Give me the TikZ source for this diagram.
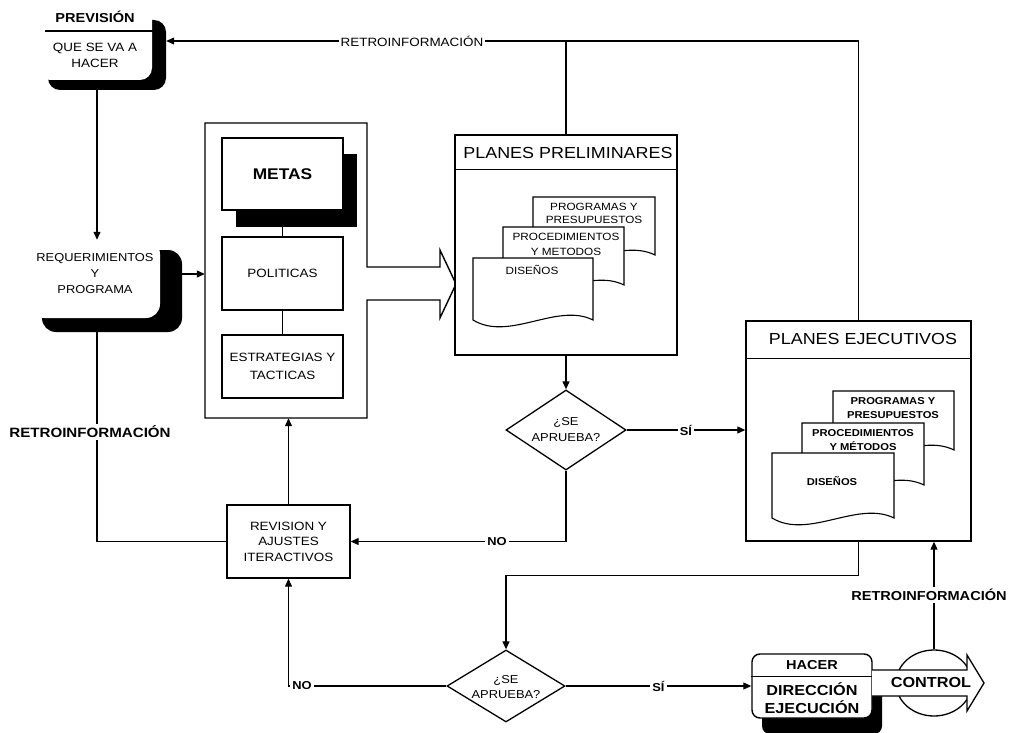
\documentclass[tikz,border=0pt]{standalone}
\usepackage{fontspec}
\setmainfont{Liberation Sans}[FakeStretch=1.12]
\usetikzlibrary{arrows.meta,shapes.geometric,calc}
\newcommand\fsz[2]{\fontsize{#1}{#2}\selectfont}
\newcommand\docshp[4]{\filldraw[docst] (#1,#2) -- (#3,#2) -- (#3,#4) .. controls ({#3-0.3*(#3-#1)},{#4-18}) and ({#1+0.3*(#3-#1)},{#4+22}) .. (#1,#4) -- cycle;}
\tikzset{
 ln/.style={line width=1.2pt},
 arr/.style={line width=1.2pt,-{Triangle[length=8pt,width=7pt]}},
 boxst/.style={draw, fill=white, line width=1.4pt, inner sep=0pt},
 shad/.style={fill=black, inner sep=0pt},
 docst/.style={draw, fill=white, line width=1.1pt},
 txt/.style={align=center, inner sep=1pt},
 lbl/.style={fill=white, inner sep=2pt},
 dia/.style={diamond, draw, line width=1.3pt, fill=white, inner sep=0pt, aspect=1.5},
}
\begin{document}
\begin{tikzpicture}[x=1pt,y=-1pt]
\useasboundingbox (0,0) rectangle (1018,733);
\coordinate (cx) at (97,0);
\coordinate (tr) at (858,41);

% PREVISION
\node[shad, rounded corners=12pt, minimum width=118pt, minimum height=70pt] (prevs) at (107,55) {};
\node[fill=white, rounded corners=12pt, minimum width=114pt, minimum height=77pt, inner sep=0pt] (prev) at (95,41.5) {};
\draw[ln] (45,31) -- (157,31);
\node[txt, font=\fsz{13}{15}\bfseries] (prevt) at (95,17) {PREVISIÓN};
\node[txt, font=\fsz{12}{16}] (prevq) at (95,55) {QUE SE VA A\\HACER};

% REQUERIMIENTOS
\node[shad, rounded corners=14pt, minimum width=140pt, minimum height=82pt] (reqs) at (112,291) {};
\node[fill=white, rounded corners=14pt, minimum width=130pt, minimum height=78pt, inner sep=0pt] (req) at (95,279) {};
\node[txt, font=\fsz{11.5}{16}] (reqt) at (95,274) {REQUERIMIENTOS\\Y\\PROGRAMA};

% container with block arrow
\draw[line width=1.4pt, fill=white] (205,123) -- (367,123) -- (367,267) -- (440,267) -- (440,250) -- (456,284) -- (440,318) -- (440,300) -- (367,300) -- (367,418) -- (205,418) -- cycle;
\node[minimum width=162pt, minimum height=295pt, inner sep=0pt] (cont) at (286,270.5) {};

\node[shad, minimum width=121pt, minimum height=73pt] (metass) at (296.5,190.5) {};
\node[boxst, minimum width=121pt, minimum height=72pt, font=\fsz{15.5}{18}\bfseries] (metas) at (282.5,174) {METAS};
\node[boxst, minimum width=121pt, minimum height=73pt, font=\fsz{12}{14}] (pol) at (282.5,273.5) {POLITICAS};
\node[boxst, minimum width=121pt, minimum height=63pt, align=center, font=\fsz{12}{18}] (est) at (282.5,366.5) {ESTRATEGIAS Y\\TACTICAS};

% PLANES PRELIMINARES
\node[boxst, minimum width=222pt, minimum height=220pt] (pp) at (566,245) {};
\draw[ln] ($(pp.north west)+(0,35)$) -- ($(pp.north east)+(0,35)$);
\node[font=\fsz{16}{18}] (ppt) at (568,153) {PLANES PRELIMINARES};
\docshp{533}{197}{655}{255}
\node[txt, font=\fsz{10.5}{13}] (pp1) at (594,213.5) {PROGRAMAS Y\\PRESUPUESTOS};
\docshp{503}{227}{624}{285}
\node[txt, font=\fsz{10.5}{15}] (pp2) at (566,244.5) {PROCEDIMIENTOS\\Y METODOS};
\docshp{473}{258}{593}{320}
\node[txt, font=\fsz{10.5}{13}] (pp3) at (532,270) {DISEÑOS};

% diamond 1
\node[dia, minimum width=120pt, minimum height=80pt] (d1) at (566,430) {};
\node[txt, font=\fsz{11.5}{16}] (d1t) at (566,430) {¿SE\\APRUEBA?};

% REVISION
\node[boxst, minimum width=123pt, minimum height=73pt, align=center, font=\fsz{12}{15.5}] (rev) at (288.5,541.5) {REVISION Y\\AJUSTES\\ITERACTIVOS};

% PLANES EJECUTIVOS
\node[boxst, minimum width=225pt, minimum height=220pt] (pe) at (858.5,431) {};
\draw[ln] ($(pe.north west)+(0,38)$) -- ($(pe.north east)+(0,38)$);
\node[font=\fsz{16}{18}] (pet) at (863,339) {PLANES EJECUTIVOS};
\docshp{833}{391}{954}{450}
\node[txt, font=\fsz{10}{14}\bfseries] (pe1) at (893,408) {PROGRAMAS Y\\PRESUPUESTOS};
\docshp{802}{423}{924}{485}
\node[txt, font=\fsz{10}{14}\bfseries] (pe2) at (863,440) {PROCEDIMIENTOS\\Y MÉTODOS};
\docshp{772}{453}{894}{518}
\node[txt, font=\fsz{10}{13}\bfseries] (pe3) at (832,481) {DISEÑOS};

% diamond 2
\node[dia, minimum width=118pt, minimum height=72pt] (d2) at (506,686) {};
\node[txt, font=\fsz{11.5}{15}] (d2t) at (506,687) {¿SE\\APRUEBA?};

% HACER
\node[shad, rounded corners=8pt, minimum width=120pt, minimum height=64pt] (hacers) at (822,702) {};
\node[boxst, rounded corners=8pt, minimum width=120pt, minimum height=64pt] (hacer) at (812,686) {};
\draw[ln] ($(hacer.north west)+(0,23)$) -- ($(hacer.north east)+(0,23)$);
\node[font=\fsz{13}{15}\bfseries] (hacert) at (812,665) {HACER};
\node[txt, font=\fsz{14.5}{18}\bfseries] (dirt) at (812,698) {DIRECCIÓN\\EJECUCIÓN};

% CONTROL
\node[ellipse, draw, line width=1.3pt, fill=white, minimum width=76pt, minimum height=66pt, inner sep=0pt] (ctrl) at (934,683) {};
\filldraw[line width=1.3pt, fill=white] (872,670) -- (967,670) -- (967,655) -- (984,683) -- (967,711) -- (967,696) -- (872,696);
\node[font=\fsz{14.5}{16}\bfseries] (ctrlt) at (931,683) {CONTROL};

% connectors
\draw[ln] (pe.north) -- (pe.north |- tr);
\draw[ln] (pp.north) -- (pp.north |- tr);
\draw[arr] (pe.north |- tr) -- (prevs.east |- tr) node[pos=0.645, lbl, font=\fsz{12}{13}] {RETROINFORMACIÓN};
\draw[arr] (prevs.south -| cx) -- (req.north -| cx);
\draw[arr] (reqs.east |- reqt.center) -- (cont.west |- reqt.center);
\draw[ln] (metas.south |- metass.south) -- (pol.north);
\draw[ln] (pol.south) -- (est.north);
\draw[arr] (pp.south) -- (d1.north);
\draw[arr] (d1.east) -- (d1.east -| pe.west) node[midway, lbl, font=\fsz{11.5}{13}\bfseries] {SÍ};
\draw[arr] (d1.south) |- (rev.east) node[pos=0.66, lbl, font=\fsz{11.5}{13}\bfseries] {NO};
\draw[arr] (rev.north) -- (rev.north |- cont.south);
\draw[ln] (rev.west) -| (reqs.south -| cx);
\node[lbl, font=\fsz{13.5}{15}\bfseries] (retl) at (90,432) {RETROINFORMACIÓN};
\draw[arr] (pe.south) -- ++(0,34) -| (d2.north);
\draw[arr] (d2.west) -| (rev.south) node[pos=0.457, lbl, font=\fsz{11.5}{13}\bfseries] {NO};
\draw[arr] (d2.east) -- (hacer.west) node[midway, lbl, font=\fsz{11.5}{13}\bfseries] {SÍ};
\draw[arr] (ctrl.north) -- (ctrl.north |- pe.south);
\node[lbl, font=\fsz{13}{15}\bfseries] (retr) at (929,595) {RETROINFORMACIÓN};
\end{tikzpicture}
\end{document}
